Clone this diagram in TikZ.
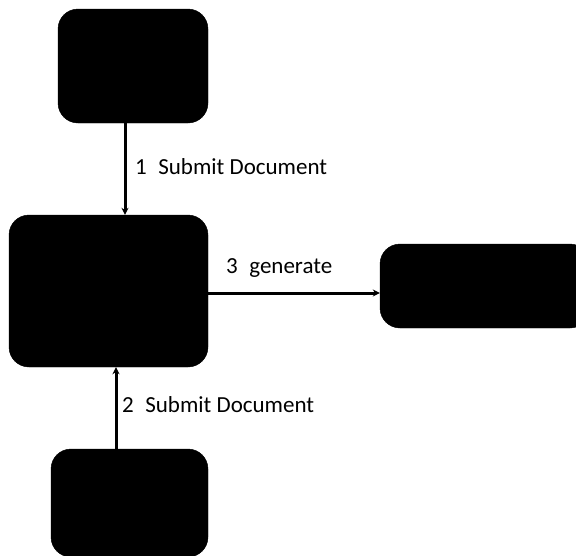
\documentclass[tikz,border=0pt]{standalone}
\usepackage{fontspec}
\setmainfont{Carlito}
\usetikzlibrary{arrows.meta}
\begin{document}
\begin{tikzpicture}[x=1pt,y=-1pt,
  blk/.style={fill=black,draw=black,rounded corners=20pt,inner sep=0pt},
  arr/.style={line width=3pt,-{Stealth[length=7pt,width=7pt]}},
  lbl/.style={font=\fontsize{23}{26}\selectfont,anchor=west,inner sep=0pt}]
\useasboundingbox (0,0) rectangle (576,555);
\node[blk,minimum width=150pt,minimum height=114pt] (top) at (133,66) {};
\node[blk,minimum width=199pt,minimum height=152pt] (mid) at (108.5,291) {};
\node[blk,minimum width=210pt,minimum height=84pt] (right) at (485,286) {};
\node[blk,minimum width=157pt,minimum height=108pt] (bot) at (129.5,503) {};
\draw[arr] ([xshift=-8pt]top.south) -- ([xshift=-8pt]top.south |- mid.north);
\draw[arr] ([xshift=-13.5pt,yshift=-5pt]bot.north) -- ([xshift=-13.5pt]bot.north |- mid.south);
\draw[arr] ([yshift=-2pt]mid.east) -- ([yshift=-2pt]mid.east -| right.west);
\node[lbl] (l1) at (135,167) {1\hspace{0.5em}Submit Document};
\node[lbl] (l2) at (122,405) {2\hspace{0.5em}Submit Document};
\node[lbl] (l3) at (226,268) {3\hspace{0.5em}generate};
\end{tikzpicture}
\end{document}
